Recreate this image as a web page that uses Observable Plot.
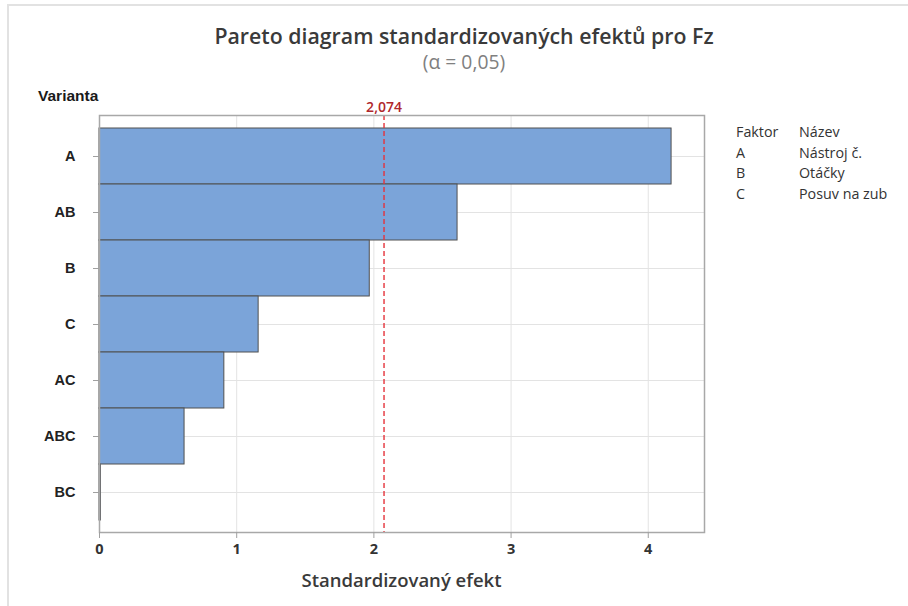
<!DOCTYPE html>
<html><head><meta charset="utf-8">
<script src="https://cdn.jsdelivr.net/npm/d3@7"></script>
<script src="https://cdn.jsdelivr.net/npm/@observablehq/plot@0.6"></script>
<style>
body{margin:0;background:#fff;}
#wrap{position:relative;width:908px;height:606px;overflow:hidden;background:#fff;}
#border{position:absolute;left:7px;top:4px;width:920px;height:620px;border-top:2px solid #e2e2e2;border-left:2px solid #e2e2e2;}
#chart{position:absolute;left:0;top:0;}
.t{position:absolute;white-space:nowrap;}
#title{left:0;width:928px;top:21px;text-align:center;font-family:"Open Sans",sans-serif;font-weight:600;font-size:21.3px;line-height:30px;color:#3a3a3a;}
#sub{left:0;width:928px;top:48px;text-align:center;font-family:"Open Sans",sans-serif;font-size:19.3px;line-height:27px;color:#808080;}
#var{left:38px;top:87px;font-family:"Liberation Sans",Arial,sans-serif;font-weight:bold;font-size:15.5px;line-height:18px;color:#1a1a1a;}
#xlab{left:99px;width:605px;top:567px;text-align:center;font-family:"Open Sans",sans-serif;font-weight:600;font-size:18.5px;line-height:26px;color:#3a3a3a;}
#legend{left:736px;top:122px;font-family:"Open Sans",sans-serif;font-size:14.3px;color:#333;line-height:20.5px;}
#legend .c1{display:inline-block;width:63px;}
</style></head><body>
<div id="wrap">
 <div id="border"></div>
 <div id="chart"></div>
 <div class="t" id="title">Pareto diagram standardizovaných efektů pro Fz</div>
 <div class="t" id="sub">(α = 0,05)</div>
 <div class="t" id="var">Varianta</div>
 <div class="t" id="xlab">Standardizovaný efekt</div>
 <div class="t" id="legend"></div>
</div>
<script>
const terms = ["A","AB","B","C","AC","ABC","BC"];
const effects = [4.17, 2.61, 1.97, 1.16, 0.91, 0.62, 0.01];
const xTicks = [0, 1, 2, 3, 4];
const critical = 2.074;
const criticalLabel = "2,074";
const legendHeader = ["Faktor", "Název"];
const factors = ["A", "B", "C"];
const factorNames = ["Nástroj č.", "Otáčky", "Posuv na zub"];

const data = terms.map((t, i) => ({term: t, effect: effects[i]}));

const plot = Plot.plot({
  width: 908, height: 606,
  marginLeft: 99, marginRight: 204, marginTop: 115, marginBottom: 74,
  style: {background: "transparent"},
  x: {domain: [0, 4.41]},
  y: {domain: terms, padding: 0, insetTop: 13, insetBottom: 12},
  marks: [
    Plot.ruleX(xTicks, {stroke: "#e3e3e3", strokeWidth: 1}),
    Plot.ruleY(terms, {stroke: "#e3e3e3", strokeWidth: 1}),
    Plot.barX(data, {x: "effect", y: "term", fill: "#7ba4d9", stroke: "#505050", strokeWidth: 1}),
    Plot.ruleX([critical], {stroke: "#e5333b", strokeWidth: 1.4, strokeDasharray: "5,3"}),
    Plot.text([critical], {x: d => d, text: () => criticalLabel, frameAnchor: "top", dy: -13,
      fill: "#b0272c", fontSize: 14, fontFamily: "Open Sans", fontWeight: 600}),
    Plot.frame({stroke: "#a8a8a8", strokeWidth: 1.5}),
    Plot.axisX(xTicks, {tickSize: 6, tickPadding: 5, label: null, stroke: "#a0a0a0",
      fill: "#333", fontSize: 14.5, fontFamily: "Open Sans", fontWeight: "bold", tickFormat: d => String(d)}),
    Plot.axisY({tickSize: 6, tickPadding: 18, label: null, stroke: "#a0a0a0",
      fill: "#222", fontSize: 14.5, fontFamily: "Liberation Sans", fontWeight: "bold"})
  ]
});
document.getElementById("chart").appendChild(plot);

const leg = document.getElementById("legend");
let html = `<div><span class="c1">${legendHeader[0]}</span>${legendHeader[1]}</div>`;
factors.forEach((f, i) => { html += `<div><span class="c1">${f}</span>${factorNames[i]}</div>`; });
leg.innerHTML = html;
</script>
</body></html>
